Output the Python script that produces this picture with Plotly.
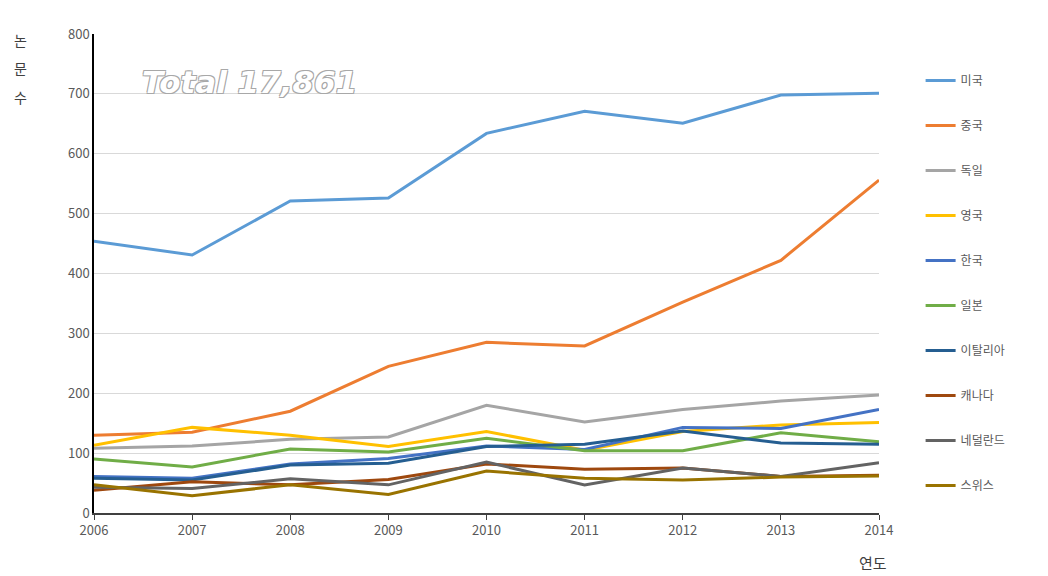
import plotly.graph_objects as go

years = [2006, 2007, 2008, 2009, 2010, 2011, 2012, 2013, 2014]
countries = ["미국", "중국", "독일", "영국", "한국", "일본", "이탈리아", "캐나다", "네덜란드", "스위스"]
usa = [454, 431, 521, 526, 634, 671, 651, 698, 701]
china = [130, 135, 170, 245, 285, 279, 352, 422, 556]
germany = [108, 112, 123, 127, 180, 152, 173, 187, 197]
uk = [113, 143, 130, 111, 136, 105, 136, 147, 151]
korea = [61, 58, 82, 91, 112, 106, 143, 141, 173]
japan = [90, 77, 107, 102, 125, 104, 104, 134, 119]
italy = [58, 55, 80, 83, 111, 115, 137, 117, 115]
canada = [38, 52, 47, 56, 82, 73, 75, 61, 63]
netherlands = [43, 41, 57, 47, 85, 47, 75, 61, 84]
swiss = [47, 29, 47, 31, 70, 58, 55, 60, 62]
series = [usa, china, germany, uk, korea, japan, italy, canada, netherlands, swiss]
colors = ["#5B9BD5", "#ED7D31", "#A5A5A5", "#FFC000", "#4472C4", "#70AD47",
          "#255E91", "#9E480E", "#636363", "#997300"]
y_ticks = [0, 100, 200, 300, 400, 500, 600, 700, 800]
y_title_chars = ["논", "문", "수"]

fig = go.Figure()
for i, (name, vals, col) in enumerate(zip(countries, series, colors)):
    fig.add_trace(go.Scatter(x=years, y=vals, name=name, mode="lines",
                             line=dict(color=col, width=3), legendgroup=f"g{i}"))

font_family = "Noto Sans CJK KR, Noto Sans, sans-serif"
annotations = []
for ch, yy in zip(y_title_chars, [0.987, 0.929, 0.868]):
    annotations.append(dict(text=ch, xref="paper", yref="paper", x=-0.094, y=yy,
                            xanchor="center", yanchor="middle", showarrow=False,
                            font=dict(size=14, color="#404040")))
annotations.append(dict(text="연도", xref="paper", yref="paper", x=0.992, y=-0.103,
                        xanchor="center", yanchor="middle", showarrow=False,
                        font=dict(size=15, color="#404040")))
annotations.append(dict(text="<b><i>Total 17,861</i></b>", xref="paper", yref="paper",
                        x=0.058, y=0.9, xanchor="left", yanchor="middle", showarrow=False,
                        font=dict(size=31, color="white", family="DejaVu Sans, sans-serif",
                                  shadow="1px 1px 0 #A8A8A8, -1px -1px 0 #A8A8A8, 1px -1px 0 #A8A8A8, -1px 1px 0 #A8A8A8")))

fig.update_layout(
    width=1048, height=576,
    margin=dict(l=86, r=177, t=26, b=71),
    plot_bgcolor="white", paper_bgcolor="white",
    font=dict(family=font_family, size=13, color="#595959"),
    showlegend=True,
    legend=dict(x=1.053, y=0.933, xanchor="left", yanchor="top",
                tracegroupgap=26, font=dict(size=12, color="#595959"),
                itemwidth=30),
    xaxis=dict(range=[2006, 2014], tickvals=years, ticks="outside", ticklen=5,
               tickcolor="#404040", showline=True, linecolor="#404040", linewidth=1.5,
               showgrid=False, zeroline=False, tickfont=dict(size=13, color="#595959")),
    yaxis=dict(range=[0, 800], tickvals=y_ticks, showline=True, linecolor="#000000",
               linewidth=1.5, gridcolor="#D9D9D9", gridwidth=1, zeroline=False,
               ticks="", tickfont=dict(size=13, color="#595959")),
    annotations=annotations,
)
fig.write_html("out.html")
